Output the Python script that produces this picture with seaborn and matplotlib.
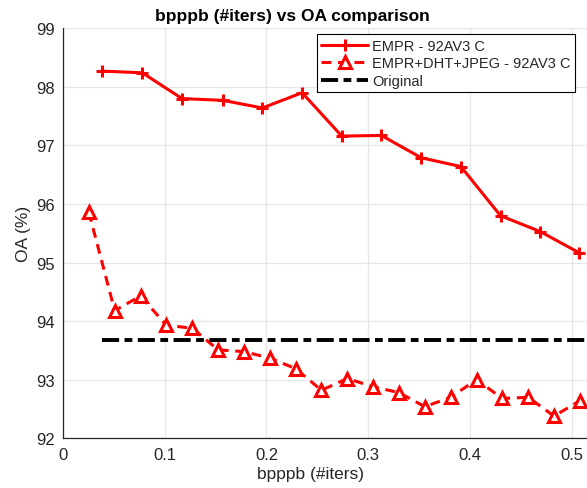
import matplotlib
matplotlib.use("Agg")
import matplotlib.pyplot as plt
import numpy as np
import pandas as pd
import seaborn as sns

# EMPR - 92AV3 C
empr_x = [0.038, 0.078, 0.117, 0.157, 0.196, 0.235, 0.274, 0.313, 0.352, 0.391, 0.430, 0.469, 0.507]
empr_y = [98.27, 98.24, 97.80, 97.77, 97.64, 97.90, 97.16, 97.17, 96.79, 96.64, 95.80, 95.53, 95.17]

# EMPR+DHT+JPEG - 92AV3 C
dht_x = [0.0254, 0.0508, 0.0762, 0.1016, 0.127, 0.1524, 0.1778, 0.2032, 0.2286, 0.254,
         0.2794, 0.3048, 0.3302, 0.3556, 0.381, 0.4064, 0.4318, 0.4572, 0.4826, 0.508]
dht_y = [95.86, 94.18, 94.43, 93.93, 93.88, 93.51, 93.48, 93.37, 93.19, 92.82,
         93.02, 92.88, 92.78, 92.54, 92.70, 93.00, 92.68, 92.70, 92.38, 92.64]

# Original
orig_x = [0.038, 0.515]
orig_y = [93.68, 93.68]

x_ticks = [0, 0.1, 0.2, 0.3, 0.4, 0.5]
y_ticks = [92, 93, 94, 95, 96, 97, 98, 99]

sns.set_style("whitegrid")
plt.rcParams["font.family"] = ["Liberation Sans", "DejaVu Sans"]

fig = plt.figure(figsize=(5.87, 4.89), dpi=100)
ax = fig.add_axes([63 / 587, 1 - 439.3 / 489, (587 - 63) / 587, (439.3 - 29.3) / 489])

red = "#ff0000"
sns.lineplot(x=empr_x, y=empr_y, ax=ax, color=red, linewidth=2.2,
             marker="+", markersize=8.5, markeredgewidth=2.2, markeredgecolor=red,
             label="EMPR - 92AV3 C")
sns.lineplot(x=dht_x, y=dht_y, ax=ax, color=red, linewidth=2.2,
             linestyle=(0, (3.2, 2.2)),
             marker="^", markersize=9, markeredgewidth=2.2,
             markerfacecolor="white", markeredgecolor=red,
             label="EMPR+DHT+JPEG - 92AV3 C")
sns.lineplot(x=orig_x, y=orig_y, ax=ax, color="black", linewidth=2.8,
             linestyle=(0, (4.4, 1.4, 2.0, 1.4)),
             label="Original")

ax.set_xlim(0, 0.515)
ax.set_ylim(92, 99)
ax.set_xticks(x_ticks)
ax.set_xticklabels([f"{t:g}" for t in x_ticks])
ax.set_yticks(y_ticks)
ax.grid(True, color="#e6e6e6", linewidth=0.9)
ax.tick_params(axis="both", direction="in", length=4, width=0.8,
               colors="#262626", labelsize=12, pad=6)

for side in ["top", "right"]:
    ax.spines[side].set_visible(False)
for side in ["left", "bottom"]:
    ax.spines[side].set_visible(True)
    ax.spines[side].set_color("#262626")
    ax.spines[side].set_linewidth(0.9)

ax.set_title("bpppb (#iters) vs OA comparison", fontsize=12.5, fontweight="bold",
             color="black", x=0.437, pad=6)
ax.set_xlabel("bpppb (#iters)", fontsize=12.5, color="#262626")
ax.xaxis.set_label_coords(0.473, -0.068)
ax.set_ylabel("OA (%)", fontsize=12.5, color="#262626")
ax.yaxis.set_label_coords(-0.061, 0.5)

leg = ax.legend(loc="upper left", bbox_to_anchor=(254 / 524, 1 - 6 / 410),
                fontsize=10.5, frameon=True, fancybox=False, framealpha=1,
                borderpad=0.3, labelspacing=0.25, handlelength=3.2,
                handletextpad=0.3, borderaxespad=0)
leg.get_frame().set_edgecolor("black")
leg.get_frame().set_linewidth(0.8)

fig.savefig("out.png", dpi=100)
